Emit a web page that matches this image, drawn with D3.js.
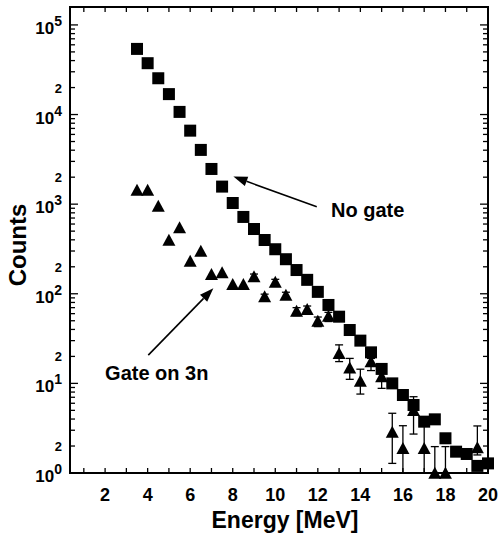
<!DOCTYPE html>
<html>
<head>
<meta charset="utf-8">
<script src="https://cdn.jsdelivr.net/npm/d3@7"></script>
<style>
  body { margin: 0; background: #fff; }
  text { font-family: "Liberation Sans", Arial, Helvetica, sans-serif; font-weight: bold; fill: #000; }
</style>
</head>
<body>
<div id="chart"></div>
<script>
// data
let noGateE = [3.5, 4, 4.5, 5, 5.5, 6, 6.5, 7, 7.5, 8, 8.5, 9, 9.5, 10, 10.5, 11, 11.5,
  12, 12.5, 13, 13.5, 14, 14.5, 15, 15.5, 16, 16.5, 17, 17.5, 18, 18.5, 19, 19.5, 20];
let noGate = [54000, 37400, 25400, 16900, 10700, 6610, 4030, 2470, 1570, 1030, 720, 528,
  398, 314, 243, 184, 143, 105, 75, 55.5, 39.4, 30, 22.2, 14.5, 10.0, 7.42, 5.74, 3.74,
  3.97, 2.44, 1.73, 1.63, 1.20, 1.28];

let gateE = [3.5, 4, 4.5, 5, 5.5, 6, 6.5, 7, 7.5, 8, 8.5, 9, 9.5, 10, 10.5, 11, 11.5, 12,
  12.5, 13, 13.5, 14, 14.5, 15, 15.5, 16, 16.5, 17, 17.5, 18, 19.5];
let gate = [1415, 1415, 938, 391, 538, 228, 295, 162, 169, 125, 125, 153, 91.4, 133, 95.3,
  63.1, 65.9, 48.8, 55.5, 21.3, 14.7, 10.4, 17.2, 11.7, 2.82, 1.85, 4.92, 1.85, 0.98, 0.98, 1.89];
// error bar ends (null = hidden under the marker)
let gateLo = [null, null, null, null, null, null, null, null, null, null, null, 140, 84, 122, 87,
  57, 59, 43, 49, 17.5, 11.1, 7.6, 13.9, 8.8, 1.28, 0.5, 2.72, 0.5, 0.5, 0.5, 1.59];
let gateHi = [null, null, null, null, null, null, null, null, null, null, null, 166, 99, 145, 104,
  70, 73, 55, 62, 26.9, 19.0, 14.4, 19.0, 15.3, 4.64, 3.37, 7.1, 3.9, 1.97, 1.97, 3.35];

let xTicks = [1, 2, 3, 4, 5, 6, 7, 8, 9, 10, 11, 12, 13, 14, 15, 16, 17, 18, 19];
let xLabels = [2, 4, 6, 8, 10, 12, 14, 16, 18, 20];
let decades = [0, 1, 2, 3, 4, 5];

// annotations: [label, textE, textY, tailE, tailY, tipE, tipY]
let notes = [
  ["No gate", 12.62, 720, 11.95, 938, 8.03, 2030],
  ["Gate on 3n", 2.0, 10.9, 4.03, 20.7, 7.09, 115]
];

let width = 501, height = 536;
let padL = 70, padR = 488, padT = 7, padB = 473;

let svg = d3.select("#chart").append("svg")
  .attr("width", width)
  .attr("height", height);

let xScale = d3.scaleLinear().domain([0.35, 20]).range([padL, padR]);
let yScale = d3.scaleLog().domain([1, Math.pow(10, 5.2)]).range([padB, padT]);

// ticks (inward, on all four sides)
let tk = svg.append("g").attr("stroke", "#000").attr("stroke-width", 1.3);
xTicks.forEach(function(v) {
  tk.append("line").attr("x1", xScale(v)).attr("x2", xScale(v)).attr("y1", padB).attr("y2", padB - 5);
  tk.append("line").attr("x1", xScale(v)).attr("x2", xScale(v)).attr("y1", padT).attr("y2", padT + 5);
});
decades.forEach(function(k) {
  for (let m = 1; m <= 9; m++) {
    let v = m * Math.pow(10, k);
    if (v > yScale.domain()[1]) continue;
    let len = m == 1 ? 8 : 5;
    tk.append("line").attr("x1", padL).attr("x2", padL + len).attr("y1", yScale(v)).attr("y2", yScale(v));
    tk.append("line").attr("x1", padR).attr("x2", padR - len).attr("y1", yScale(v)).attr("y2", yScale(v));
  }
});

// frame
svg.append("rect")
  .attr("x", padL).attr("y", padT)
  .attr("width", padR - padL).attr("height", padB - padT)
  .attr("fill", "none").attr("stroke", "#000").attr("stroke-width", 2);

// x tick labels
svg.append("g").selectAll("text")
  .data(xLabels)
  .enter()
  .append("text")
  .attr("x", d => xScale(d))
  .attr("y", 501)
  .attr("text-anchor", "middle")
  .style("font-size", "18px")
  .text(d => d);

// y tick labels: 10^k and "2" at 2*10^k
decades.forEach(function(k) {
  let t = svg.append("text")
    .attr("x", 62)
    .attr("y", yScale(Math.pow(10, k)) + 9)
    .attr("text-anchor", "end");
  t.append("tspan").style("font-size", "17px").text("10");
  t.append("tspan").style("font-size", "14px").attr("dy", -8).text(k);
  if (2 * Math.pow(10, k) < yScale.domain()[1]) {
    svg.append("text")
      .attr("x", 62)
      .attr("y", yScale(2 * Math.pow(10, k)) + 5)
      .attr("text-anchor", "end")
      .style("font-size", "13px")
      .text("2");
  }
});

// axis titles
svg.append("text")
  .attr("x", (padL + padR) / 2 + 6)
  .attr("y", 528)
  .attr("text-anchor", "middle")
  .style("font-size", "23px")
  .text("Energy [MeV]");

svg.append("text")
  .attr("transform", "translate(26," + 245 + ") rotate(-90)")
  .attr("text-anchor", "middle")
  .style("font-size", "24px")
  .text("Counts");

// error bars for the gated spectrum
let eb = svg.append("g").attr("stroke", "#000").attr("stroke-width", 1.3);
gateE.forEach(function(e, i) {
  if (gateLo[i] == null) return;
  let x = xScale(e);
  let lo = gateLo[i] < 1 ? padB : yScale(gateLo[i]);
  let hi = yScale(gateHi[i]);
  eb.append("line").attr("x1", x).attr("x2", x).attr("y1", lo).attr("y2", hi);
  eb.append("line").attr("x1", x - 4).attr("x2", x + 4).attr("y1", hi).attr("y2", hi);
  if (gateLo[i] >= 1) {
    eb.append("line").attr("x1", x - 4).attr("x2", x + 4).attr("y1", lo).attr("y2", lo);
  }
});

// squares: no gate
svg.append("g").selectAll("rect")
  .data(noGateE)
  .enter()
  .append("rect")
  .attr("x", d => xScale(d) - 6)
  .attr("y", (d, i) => yScale(noGate[i]) - 6)
  .attr("width", 12)
  .attr("height", 12)
  .attr("fill", "#000");

// triangles: gate on 3n
svg.append("g").selectAll("path")
  .data(gateE)
  .enter()
  .append("path")
  .attr("transform", (d, i) => "translate(" + xScale(d) + "," + yScale(gate[i]) + ")")
  .attr("d", "M0,-7L6.5,5L-6.5,5Z")
  .attr("fill", "#000");

// arrows and labels
notes.forEach(function(n) {
  let x1 = xScale(n[3]), y1 = yScale(n[4]);
  let x2 = xScale(n[5]), y2 = yScale(n[6]);
  let ang = Math.atan2(y2 - y1, x2 - x1);
  let hl = 14, hw = 5;
  let bx = x2 - hl * Math.cos(ang), by = y2 - hl * Math.sin(ang);
  svg.append("line")
    .attr("x1", x1).attr("y1", y1).attr("x2", bx).attr("y2", by)
    .attr("stroke", "#000").attr("stroke-width", 1.6);
  svg.append("path")
    .attr("d", "M" + x2 + "," + y2 +
      "L" + (bx - hw * Math.sin(ang)) + "," + (by + hw * Math.cos(ang)) +
      "L" + (bx + hw * Math.sin(ang)) + "," + (by - hw * Math.cos(ang)) + "Z")
    .attr("fill", "#000");
  svg.append("text")
    .attr("x", xScale(n[1]))
    .attr("y", yScale(n[2]))
    .style("font-size", "20px")
    .text(n[0]);
});
</script>
</body>
</html>
